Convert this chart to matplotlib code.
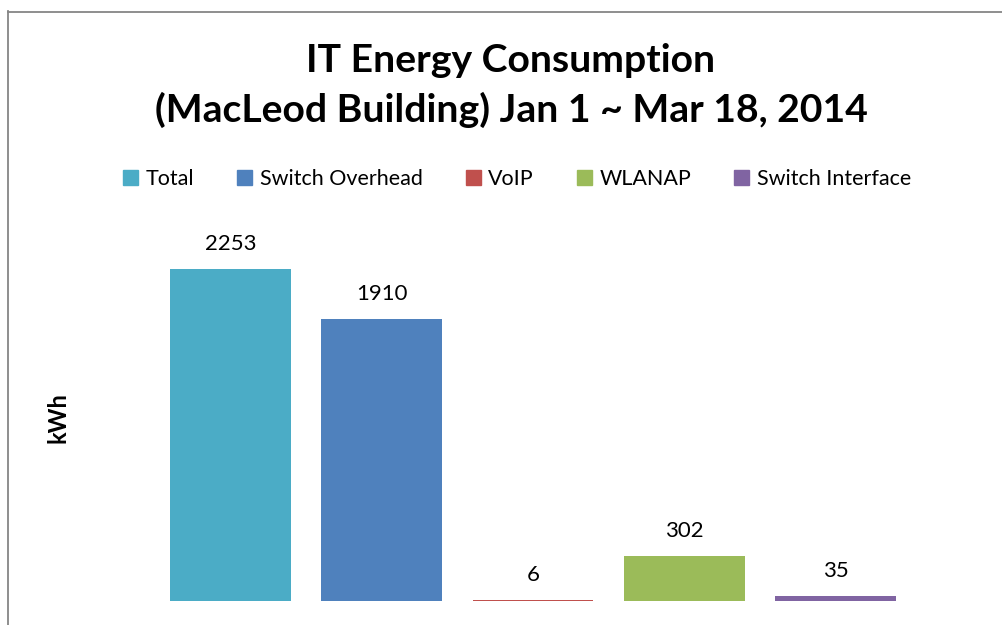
import matplotlib
matplotlib.use("Agg")
from matplotlib import pyplot as plt
from matplotlib.lines import Line2D
from matplotlib.patches import Patch

# data
series = ["Total", "Switch Overhead", "VoIP", "WLANAP", "Switch Interface"]
kwh = [2253, 1910, 6, 302, 35]
colors = ["#4BACC6", "#4F81BD", "#C0504D", "#9BBB59", "#8064A2"]

plt.rcParams['font.family'] = ['Lato', 'DejaVu Sans']

fig = plt.figure(figsize=(10.03, 6.25), dpi=100)
ax = fig.add_axes([0.1545, 0.0384, 0.7538, 0.5896])

for i, (name, v, c) in enumerate(zip(series, kwh, colors)):
	ax.bar(i, v, width=0.8, color=c, label=name)
	ax.annotate(str(v), (i, v), xytext=(0, 11), textcoords='offset points',
		ha='center', va='bottom', fontsize=16)

ax.set_xlim(-0.5, 4.5)
ax.set_ylim(0, 2500)
ax.set_xticks([])
ax.set_yticks([])
for s in ax.spines.values():
	s.set_visible(False)

fig.text(58/1003, 1 - 418/625, "kWh", rotation=90, ha='center', va='center',
	fontsize=17, fontweight='bold')

fig.text(511/1003, 1 - 60/625, "IT Energy Consumption", ha='center', va='center',
	fontsize=28.2, fontweight='bold')
fig.text(511/1003, 1 - 110/625, "(MacLeod Building) Jan 1 ~ Mar 18, 2014",
	ha='center', va='center', fontsize=28.2, fontweight='bold')

handles = [Patch(color=c) for c in colors]
fig.legend(handles, series, loc='center', bbox_to_anchor=(517/1003, 1 - 179/625),
	ncol=5, frameon=False, fontsize=15.5, handlelength=0.7, handleheight=0.7,
	handletextpad=0.35, columnspacing=2.0)

# chart border (cropped on right and bottom)
fig.add_artist(Line2D([8.5/1003, 8.5/1003], [0, 1 - 11/625], color='#868686', lw=1.3))
fig.add_artist(Line2D([8/1003, 1], [1 - 11.5/625, 1 - 11.5/625], color='#868686', lw=1.3))

fig.savefig("out.png", dpi=100)
